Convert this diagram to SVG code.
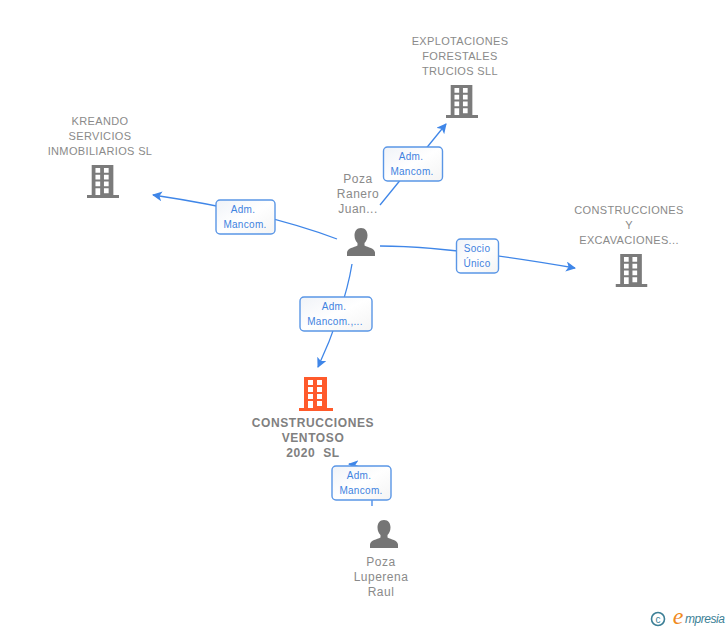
<svg xmlns="http://www.w3.org/2000/svg" width="728" height="630" viewBox="0 0 728 630">
<style>
text{font-family:"Liberation Sans",Arial,sans-serif;text-anchor:middle}
.n{font-size:11px;fill:#8a8a8a;letter-spacing:.35px}
.p{font-size:12px;fill:#8a8a8a;letter-spacing:.5px}
.b{font-size:12px;fill:#808080;font-weight:bold;letter-spacing:.6px}
.l{font-size:10px;fill:#3f82e0;letter-spacing:.3px}
.c{fill:none;stroke:#3f86e8;stroke-width:1.3}
.box{fill:url(#g);stroke:#5a96e6;stroke-width:1.4}
</style>
<defs>
<linearGradient id="g" x1="0" y1="0" x2="1" y2="1"><stop offset="0" stop-color="#f0f3f8"/><stop offset=".5" stop-color="#fff"/><stop offset="1" stop-color="#f4f4f4"/></linearGradient>
<marker id="a" markerWidth="12" markerHeight="12" refX="9" refY="5" orient="auto" markerUnits="userSpaceOnUse"><path d="M0 0L10 5L0 10L2.500 5Z" fill="#3f86e8"/></marker>
<symbol id="bld" viewBox="0 0 34 34" preserveAspectRatio="none">
<path fill-rule="evenodd" d="M5 0H28V31H34V34H0V31H5ZM9 3V8H14V3ZM18 3V8H23V3ZM9 10V15H14V10ZM18 10V15H23V10ZM9 17V22H14V17ZM18 17V22H23V17ZM9 24V31H14V24ZM18 24V29H23V24Z"/>
</symbol>
<symbol id="per" viewBox="0 0 28 28">
<path d="M14 0C18.500 0 20.500 3.500 20.500 7.500C20.500 11 19 13.500 17.500 15V17.500C21 19.500 27.500 20 28 24.500V28H0V24.500C.5 20 7 19.500 10.500 17.500V15C9 13.500 7.500 11 7.500 7.500C7.500 3.500 9.500 0 14 0Z"/>
</symbol>
</defs>
<rect width="728" height="630" fill="#fff"/>
<g id="connectors">
<path class="c" d="M380 205L446 124" marker-end="url(#a)"/>
<path class="c" d="M337 239C300 225 240 208 153 195" marker-end="url(#a)"/>
<path class="c" d="M380 246C430 246 500 255 575 268" marker-end="url(#a)"/>
<path class="c" d="M352 264C347 295 333 335 318 367" marker-end="url(#a)"/>
<path class="c" d="M372 506V490C372 478 365 466 349 464" marker-end="url(#a)"/>
</g>
<g id="node-explotaciones">
<text class="n" x="460" y="45">EXPLOTACIONES</text><text class="n" x="460" y="60">FORESTALES</text><text class="n" x="460" y="75">TRUCIOS SLL</text>
<use href="#bld" x="446" y="85" width="32" height="33" fill="#7b7b7b"/>
</g>
<g id="node-kreando">
<text class="n" x="100" y="125">KREANDO</text><text class="n" x="100" y="140">SERVICIOS</text><text class="n" x="100" y="155">INMOBILIARIOS SL</text>
<use href="#bld" x="87" y="165" width="32" height="33" fill="#7b7b7b"/>
</g>
<g id="node-construcciones-excavaciones">
<text class="n" x="629" y="214">CONSTRUCCIONES</text><text class="n" x="629" y="229">Y</text><text class="n" x="629" y="244">EXCAVACIONES...</text>
<use href="#bld" x="615.500" y="254" width="32" height="33" fill="#7b7b7b"/>
</g>
<g id="node-poza-ranero">
<text class="p" x="358" y="183">Poza</text><text class="p" x="358" y="198">Ranero</text><text class="p" x="358" y="213">Juan...</text>
<use href="#per" x="347" y="228" width="28" height="28" fill="#757575"/>
</g>
<g id="node-ventoso">
<use href="#bld" x="299" y="377" width="34" height="34" fill="#ff5a2b"/>
<text class="b" x="313" y="427">CONSTRUCCIONES</text><text class="b" x="313" y="442">VENTOSO</text><text class="b" x="313" y="457">2020&#160;&#160;SL</text>
</g>
<g id="node-poza-luperena">
<use href="#per" x="370" y="520" width="28" height="28" fill="#757575"/>
<text class="p" x="381" y="566">Poza</text><text class="p" x="381" y="581">Luperena</text><text class="p" x="381" y="596">Raul</text>
</g>
<g id="label-1"><rect class="box" x="383.500" y="147" width="59" height="34" rx="4"/><text class="l" x="411" y="160">Adm.</text><text class="l" x="412" y="175">Mancom.</text></g>
<g id="label-2"><rect class="box" x="216" y="200" width="59" height="34" rx="4"/><text class="l" x="243" y="213">Adm.</text><text class="l" x="245" y="228">Mancom.</text></g>
<g id="label-3"><rect class="box" x="456.500" y="239" width="42" height="34" rx="4"/><text class="l" x="477" y="252">Socio</text><text class="l" x="477" y="267">Único</text></g>
<g id="label-4"><rect class="box" x="300" y="297" width="72" height="34" rx="4"/><text class="l" x="334" y="310">Adm.</text><text class="l" x="335" y="325">Mancom.,...</text></g>
<g id="label-5"><rect class="box" x="332" y="466" width="59" height="34" rx="4"/><text class="l" x="359" y="479">Adm.</text><text class="l" x="361" y="494">Mancom.</text></g>
<g id="logo">
<circle cx="658" cy="619" r="6.500" fill="none" stroke="#3c7f96" stroke-width="1.600"/>
<text x="658" y="622.500" style="font-size:10px;fill:#3c7f96">c</text>
<text x="678" y="624" style="font-family:'Liberation Serif',serif;font-size:24px;font-style:italic;fill:#f08a1d">e</text>
<text x="705" y="623" textLength="40" style="font-size:12px;font-style:italic;fill:#3c7f96">mpresia</text>
</g>
</svg>
